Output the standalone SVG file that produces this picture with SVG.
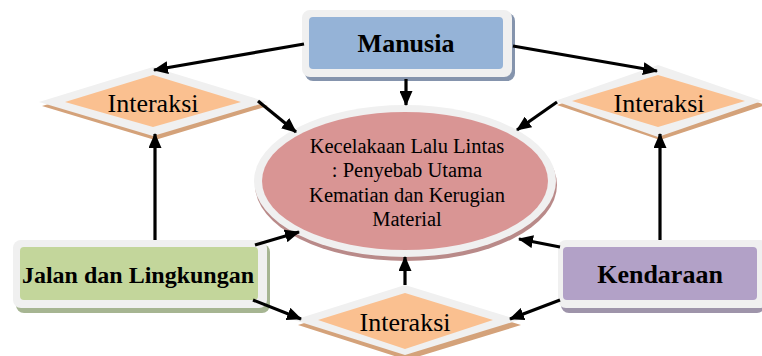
<svg xmlns="http://www.w3.org/2000/svg" width="762" height="356" viewBox="0 0 762 356">
<style>
.rim{fill:#f0f0f0}
.bt{font-family:"Liberation Serif","Times New Roman",serif;font-weight:bold;fill:#000;text-anchor:middle}
.rt{font-family:"Liberation Serif","Times New Roman",serif;fill:#000;text-anchor:middle}
.dshadow{fill:#d4a27a}
.dia{fill:#fac090}
.conn line{stroke:#000;stroke-width:3.2;marker-end:url(#ah)}
</style>
<defs>
<marker id="ah" markerWidth="15" markerHeight="13" refX="14" refY="6.5" orient="auto" markerUnits="userSpaceOnUse">
<path d="M0,0 L15,6.5 L0,13 Z" fill="#000"/>
</marker>
</defs>
<rect width="762" height="356" fill="#fff"/>

<g id="center">
<ellipse cx="406" cy="185" rx="151" ry="76" fill="#b98a89"/>
<ellipse cx="405" cy="181" rx="151" ry="76" class="rim"/>
<ellipse cx="405" cy="181" rx="143" ry="69" fill="#d99594"/>
<text class="rt" font-size="20.5"><tspan x="407" y="153">Kecelakaan Lalu Lintas</tspan><tspan x="407" y="177">: Penyebab Utama</tspan><tspan x="407" y="201.5">Kematian dan Kerugian</tspan><tspan x="407" y="226">Material</tspan></text>
</g>

<g id="manusia">
<rect x="305" y="13" width="210" height="68" rx="8" fill="#8594ad"/>
<rect x="302" y="10" width="210" height="67" rx="8" class="rim"/>
<rect x="309" y="17" width="194" height="52" rx="4" fill="#95b3d7"/>
<text class="bt" x="406" y="52" font-size="26">Manusia</text>
</g>

<g id="jalan">
<rect x="16" y="244" width="254" height="69" rx="8" fill="#a6b592"/>
<rect x="13" y="240" width="254" height="68" rx="8" class="rim"/>
<rect x="20" y="247" width="238" height="53" rx="4" fill="#c3d69b"/>
<text class="bt" x="138" y="283" font-size="24">Jalan dan Lingkungan</text>
</g>

<g id="kendaraan">
<rect x="561" y="244" width="204" height="69" rx="8" fill="#9e94aa"/>
<rect x="558" y="240" width="210" height="68" rx="8" class="rim"/>
<rect x="563" y="247" width="194" height="53" rx="4" fill="#b2a1c7"/>
<text class="bt" x="660" y="283" font-size="26">Kendaraan</text>
</g>

<g id="interaksi-left">
<polygon points="155,72 268,106 155,140 42,106" class="dshadow"/>
<polygon points="153,67 267,102 153,136 39,102" class="rim"/>
<polygon points="153,75 241,102 153,127 65,102" class="dia"/>
<text class="rt" x="153" y="111.5" font-size="26">Interaksi</text>
</g>

<g id="interaksi-right">
<polygon points="660,70 766,105 660,140 557,105" class="dshadow"/>
<polygon points="658,65 762,101 658,137 555,101" class="rim"/>
<polygon points="658,75 745,101 658,127 572,101" class="dia"/>
<text class="rt" x="659" y="112" font-size="26">Interaksi</text>
</g>

<g id="interaksi-bottom">
<polygon points="407,290 521,325 407,360 298,325" class="dshadow"/>
<polygon points="405,285 519,320 405,355 294,320" class="rim"/>
<polygon points="405,293 493,320 405,349 318,320" class="dia"/>
<text class="rt" x="405" y="331" font-size="26">Interaksi</text>
</g>

<g class="conn" id="connectors">
<line x1="304" y1="44" x2="154" y2="70"/>
<line x1="513" y1="46" x2="657" y2="71"/>
<line x1="406" y1="79" x2="406" y2="105"/>
<line x1="258" y1="101" x2="296" y2="132"/>
<line x1="557" y1="102" x2="517" y2="130"/>
<line x1="155" y1="240" x2="155" y2="134"/>
<line x1="660" y1="240" x2="660" y2="134"/>
<line x1="255" y1="245" x2="299" y2="232"/>
<line x1="560" y1="247" x2="519" y2="239"/>
<line x1="253" y1="300" x2="301" y2="319"/>
<line x1="560" y1="300" x2="510" y2="319"/>
<line x1="405" y1="285" x2="405" y2="257"/>
</g>
</svg>
